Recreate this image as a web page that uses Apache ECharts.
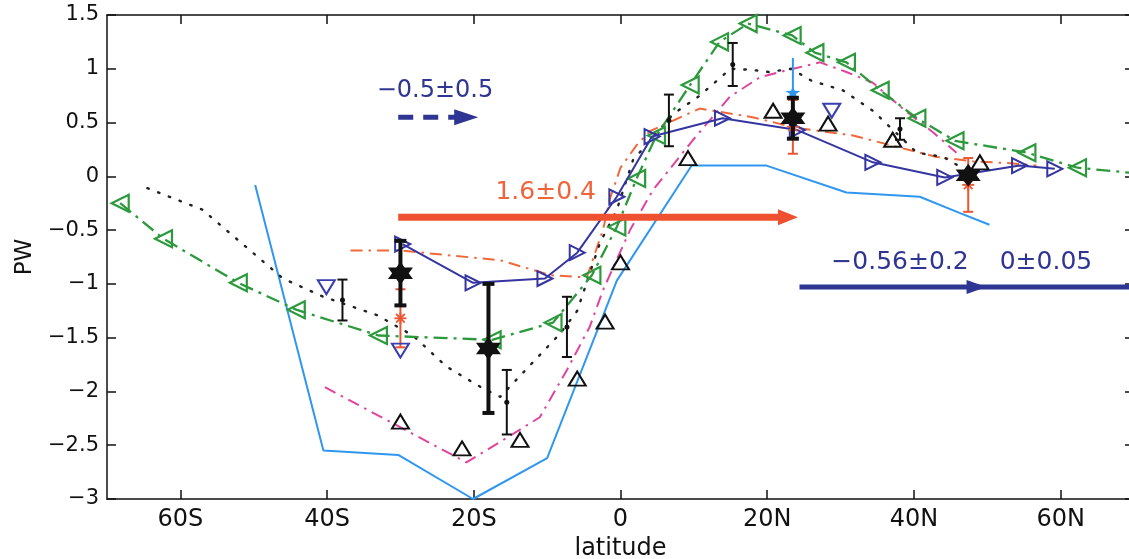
<!DOCTYPE html>
<html><head><meta charset="utf-8">
<script src="https://cdn.jsdelivr.net/npm/echarts@6/dist/echarts.min.js"></script>
<style>html,body{margin:0;padding:0;background:#fff}#c{width:1129px;height:559px}</style>
</head><body><div id="c"></div>
<script>
const FONT = 'DejaVu Sans';
// ---- axis ticks ----
const latTicks = [-60, -40, -20, 0, 20, 40, 60];
const latTickLabels = ['60S', '40S', '20S', '0', '20N', '40N', '60N'];

// ---- curves (latitude, PW) ----
const greenLat = [-68.2, -62.3, -52.1, -44.2, -33.0, -17.5, -9.2, -3.9, -0.5, 2.2, 4.9, 9.5, 13.5, 17.4, 23.4, 26.5, 30.8, 35.4, 40.4, 45.6, 55.4, 62.3, 70];
const greenPW  = [-0.25, -0.58, -0.99, -1.24, -1.48, -1.52, -1.36, -0.92, -0.47, -0.02, 0.38, 0.85, 1.25, 1.42, 1.31, 1.15, 1.06, 0.80, 0.54, 0.33, 0.22, 0.08, 0.03];

const blueLat = [-29.7, -20.1, -10.3, -5.9, -0.5, 4.3, 13.9, 24.1, 34.4, 44.2, 54.4, 59.2];
const bluePW  = [-0.63, -0.99, -0.95, -0.71, -0.19, 0.37, 0.54, 0.43, 0.13, -0.01, 0.10, 0.07];

const lightLat = [-49.8, -40.5, -30.3, -20.1, -10.0, -0.5, 9.7, 19.9, 30.8, 40.8, 46.2, 50.3];
const lightPW  = [-0.08, -2.55, -2.59, -3.0, -2.62, -0.97, 0.10, 0.10, -0.15, -0.19, -0.34, -0.45];

const orangeLat = [-36.8, -30, -16.4, -9.5, -4.6, -2.4, -1.4, 0, 2.2, 4.0, 10.8, 18, 24, 31.7, 38.5, 43.1, 48, 53.5, 56.7];
const orangePW  = [-0.69, -0.69, -0.78, -0.92, -0.94, -0.50, -0.20, 0.08, 0.29, 0.42, 0.63, 0.55, 0.45, 0.38, 0.26, 0.18, 0.14, 0.12, 0.10];

const magentaLat = [-40.3, -21, -15, -11, -7.3, -4.2, -2.4, 1.3, 4.4, 9.9, 14.9, 19, 21.7, 27.2, 30.8, 34.4, 39, 42.6, 45.8];
const magentaPW  = [-1.96, -2.66, -2.41, -2.24, -1.80, -1.40, -1.06, -0.50, -0.13, 0.34, 0.74, 0.92, 0.97, 1.06, 0.97, 0.87, 0.60, 0.41, 0.22];

const dottedLat = [-64.5, -57, -46, -40.5, -33.2, -28.3, -23.7, -18.8, -16.4, -8.2, -5.9, -2.8, -0.5, 1.7, 7.2, 10.8, 15, 17.9, 20.2, 23.3, 26, 30.3, 34.4, 40.4, 44, 46.3];
const dottedPW  = [-0.11, -0.31, -0.95, -1.12, -1.29, -1.48, -1.77, -1.97, -2.05, -1.46, -1.25, -0.62, -0.31, 0.15, 0.58, 0.75, 1.0, 0.99, 0.97, 1.0, 0.89, 0.80, 0.61, 0.22, 0.18, 0.09];

// ---- individual markers ----
const upTriLat = [-30, -21.6, -13.7, -5.9, -2.1, 0, 9.2, 20.8, 28.3, 37.1, 49];
const upTriPW  = [-2.28, -2.53, -2.45, -1.88, -1.35, -0.80, 0.17, 0.61, 0.49, 0.34, 0.13];

const downTriLat = [-40.1, -30, 28.8];
const downTriPW  = [-1.03, -1.62, 0.61];

// error bars: lat, value, half-width
const thinBarLat = [-37.9, -15.5, -7.3, 6.6, 15.3, 38.1];
const thinBarPW  = [-1.15, -2.10, -1.40, 0.52, 1.04, 0.44];
const thinBarErr = [0.19, 0.30, 0.28, 0.24, 0.20, 0.10];

const starLat = [-30, -18, 23.5, 47.4];
const starPW  = [-0.90, -1.60, 0.54, 0.01];
const starErr = [0.30, 0.60, 0.19, 0];

const redLat = [-30, 23.5, 47.4];
const redPW  = [-1.32, 0.46, -0.08];
const redErr = [0.27, 0.25, 0.25];

const cyanLat = [23.5];
const cyanPW  = [0.78];
const cyanErr = [0.32];

// ---- arrows: [start lat, end lat, PW, tip lat] ----
const arrowDashed = [-30.3, -19.4, 0.55, -19.4];
const arrowRed    = [-30.3, 24.2, -0.38, 24.2];
const arrowBlue   = [24.4, 70, -1.03, 49.9];

// ---- annotation texts ----
const annoText = ['\u22120.5\u00B10.5', '1.6\u00B10.4', '\u22120.56\u00B10.2', '0\u00B10.05'];
const annoLat  = [-25.3, -10.2, 38.1, 58.0];
const annoPW   = [0.80, -0.15, -0.80, -0.80];
const annoColor = ['#2E3592', '#F0643C', '#2E3592', '#2E3592'];
const annoSize = [24, 25, 25, 25];

function pairs(a, b) { return a.map((v, i) => [v, b[i]]); }
function triples(a, b, c) { return a.map((v, i) => [v, b[i], c[i]]); }

const HEX = 'path://M0,-10 L2.89,-5 L8.66,-5 L5.77,0 L8.66,5 L2.89,5 L0,10 L-2.89,5 L-8.66,5 L-5.77,0 L-8.66,-5 L-2.89,-5 Z';
const STAR5 = 'path://M0,-10 L2.35,-3.24 L9.51,-3.09 L3.8,1.24 L5.88,8.09 L0,4 L-5.88,8.09 L-3.8,1.24 L-9.51,-3.09 L-2.35,-3.24 Z';

function errBars(name, lat, pw, err, color, width, cap, z) {
  return {
    type: 'custom', name, z, silent: true,
    data: triples(lat, pw, err),
    encode: { x: 0, y: 1 },
    renderItem: (params, api) => {
      const x = api.value(0), y = api.value(1), e = api.value(2);
      if (!e) return { type: 'group', children: [] };
      const t = api.coord([x, y + e]), b = api.coord([x, y - e]);
      const st = { stroke: color, lineWidth: width };
      return { type: 'group', children: [
        { type: 'line', shape: { x1: t[0], y1: t[1], x2: b[0], y2: b[1] }, style: st },
        { type: 'line', shape: { x1: t[0] - cap, y1: t[1], x2: t[0] + cap, y2: t[1] }, style: st },
        { type: 'line', shape: { x1: b[0] - cap, y1: b[1], x2: b[0] + cap, y2: b[1] }, style: st }
      ]};
    }
  };
}

function arrowSeries(arr, color, width, dash, headLen, headHalf, z) {
  return {
    type: 'custom', z, silent: true, clip: false,
    data: [arr],
    encode: { x: [0, 1], y: 2 },
    renderItem: (params, api) => {
      const p0 = api.coord([api.value(0), api.value(2)]);
      const p1 = api.coord([api.value(1), api.value(2)]);
      const tip = api.coord([api.value(3), api.value(2)]);
      const shaftEnd = Math.abs(p1[0] - tip[0]) < 1 ? tip[0] - headLen + 2 : p1[0];
      return { type: 'group', children: [
        { type: 'line', shape: { x1: p0[0], y1: p0[1], x2: shaftEnd, y2: p1[1] },
          style: { stroke: color, lineWidth: width, lineDash: dash } },
        { type: 'polygon', shape: { points: [[tip[0], tip[1]], [tip[0] - headLen, tip[1] - headHalf], [tip[0] - headLen, tip[1] + headHalf]] },
          style: { fill: color } }
      ]};
    }
  };
}

const chart = echarts.init(document.getElementById('c'));
const axisLineStyle = { color: '#111', width: 1.5 };
const option = {
  animation: false,
  backgroundColor: '#fff',
  grid: { left: 107, top: 15, width: 1027, height: 484, outerBoundsMode: 'none', containLabel: false },
  xAxis: [
    { type: 'value', min: -70, max: 70, position: 'bottom',
      axisLine: { show: true, onZero: false, lineStyle: axisLineStyle },
      axisTick: { show: true, inside: true, length: 9, customValues: latTicks, lineStyle: axisLineStyle },
      axisLabel: { customValues: latTicks, formatter: v => latTickLabels[latTicks.indexOf(v)], fontSize: 24, color: '#111', fontFamily: FONT, margin: 9 },
      splitLine: { show: false },
      name: 'latitude', nameLocation: 'middle', nameGap: 35,
      nameTextStyle: { fontSize: 24, color: '#111', fontFamily: FONT } },
    { type: 'value', min: -70, max: 70, position: 'top',
      axisLine: { show: true, onZero: false, lineStyle: axisLineStyle },
      axisTick: { show: true, inside: true, length: 9, customValues: latTicks, lineStyle: axisLineStyle },
      axisLabel: { show: false }, splitLine: { show: false } }
  ],
  yAxis: [
    { type: 'value', min: -3, max: 1.5, interval: 0.5, position: 'left',
      axisLine: { show: true, onZero: false, lineStyle: axisLineStyle },
      axisTick: { show: true, inside: true, length: 9, lineStyle: axisLineStyle },
      axisLabel: { formatter: v => String(v).replace('-', '\u2212'), fontSize: 21, color: '#111', fontFamily: FONT, margin: 8 },
      splitLine: { show: false },
      name: 'PW', nameLocation: 'middle', nameGap: 70,
      nameTextStyle: { fontSize: 23, color: '#111', fontFamily: FONT } },
    { type: 'value', min: -3, max: 1.5, interval: 0.5, position: 'right',
      axisLine: { show: true, onZero: false, lineStyle: axisLineStyle },
      axisTick: { show: true, inside: true, length: 9, lineStyle: axisLineStyle },
      axisLabel: { show: false }, splitLine: { show: false } }
  ],
  series: [
    { type: 'line', name: 'lightblue', data: pairs(lightLat, lightPW), showSymbol: false, symbol: 'none', z: 2,
      lineStyle: { color: '#2F97F0', width: 2 } },
    { type: 'line', name: 'magenta', data: pairs(magentaLat, magentaPW), symbol: 'none', z: 2,
      lineStyle: { color: '#E0449C', width: 2, type: [12, 6, 2.5, 6] } },
    { type: 'line', name: 'orange', data: pairs(orangeLat, orangePW), symbol: 'none', z: 2,
      lineStyle: { color: '#F0683A', width: 2, type: [12, 6, 2.5, 6] } },
    { type: 'line', name: 'dotted', data: pairs(dottedLat, dottedPW), symbol: 'none', z: 2,
      lineStyle: { color: '#222', width: 2.4, type: [1.5, 10], cap: 'round' } },
    { type: 'line', name: 'green', z: 3,
      data: greenLat.map((v, i) => i === greenLat.length - 1 ? { value: [v, greenPW[i]], symbol: 'none' } : [v, greenPW[i]]),
      symbol: 'triangle', symbolSize: 17, symbolRotate: 90, showAllSymbol: true,
      itemStyle: { color: 'rgba(0,0,0,0)', borderColor: '#2C9A3C', borderWidth: 2.2, opacity: 1 },
      lineStyle: { color: '#2C9A3C', width: 2.3, type: [14, 6, 3, 6] } },
    { type: 'line', name: 'blue', z: 4, data: pairs(blueLat, bluePW),
      symbol: 'triangle', symbolSize: 15, symbolRotate: -90, showAllSymbol: true,
      itemStyle: { color: 'rgba(0,0,0,0)', borderColor: '#3535A2', borderWidth: 2, opacity: 1 },
      lineStyle: { color: '#3535A2', width: 2 } },
    { type: 'scatter', name: 'upTri', z: 5, data: pairs(upTriLat, upTriPW),
      symbol: 'triangle', symbolSize: [17, 14],
      itemStyle: { color: 'rgba(0,0,0,0)', borderColor: '#111', borderWidth: 2, opacity: 1 } },
    errBars('thinBars', thinBarLat, thinBarPW, thinBarErr, '#111', 2, 5, 6),
    { type: 'scatter', name: 'thinDots', z: 6, data: pairs(thinBarLat, thinBarPW),
      symbol: 'circle', symbolSize: 5, itemStyle: { color: '#111', opacity: 1 } },
    errBars('redBars', redLat, redPW, redErr, '#EC5532', 2, 5, 6),
    { type: 'custom', name: 'redAst', z: 7, silent: true, data: pairs(redLat, redPW),
      encode: { x: 0, y: 1 },
      renderItem: (params, api) => {
        const p = api.coord([api.value(0), api.value(1)]);
        const r = 6, d = 4.3, st = { stroke: '#EC5532', lineWidth: 1.8 };
        return { type: 'group', children: [
          { type: 'line', shape: { x1: p[0] - r, y1: p[1], x2: p[0] + r, y2: p[1] }, style: st },
          { type: 'line', shape: { x1: p[0], y1: p[1] - r, x2: p[0], y2: p[1] + r }, style: st },
          { type: 'line', shape: { x1: p[0] - d, y1: p[1] - d, x2: p[0] + d, y2: p[1] + d }, style: st },
          { type: 'line', shape: { x1: p[0] - d, y1: p[1] + d, x2: p[0] + d, y2: p[1] - d }, style: st }
        ]};
      } },
    { type: 'scatter', name: 'downTri', z: 7, data: pairs(downTriLat, downTriPW),
      symbol: 'triangle', symbolSize: [17, 14], symbolRotate: 180,
      itemStyle: { color: 'rgba(0,0,0,0)', borderColor: '#3A3FB0', borderWidth: 2, opacity: 1 } },
    errBars('cyanBar', cyanLat, cyanPW, cyanErr, '#2F97F0', 2, 0, 7),
    { type: 'scatter', name: 'cyanStar', z: 7, data: pairs(cyanLat, cyanPW),
      symbol: STAR5, symbolSize: [15, 13], itemStyle: { color: '#2F97F0', opacity: 1 } },
    errBars('starBars', starLat, starPW, starErr, '#111', 4, 6, 8),
    { type: 'scatter', name: 'stars', z: 9, data: pairs(starLat, starPW),
      symbol: HEX, symbolSize: [25, 23], itemStyle: { color: '#111', opacity: 1 } },
    arrowSeries(arrowDashed, '#2E3592', 5, [15, 10], 24, 8, 10),
    arrowSeries(arrowRed, '#EE5030', 7, null, 20, 8, 10),
    arrowSeries(arrowBlue, '#2E3592', 5, null, 20, 7, 10),
    { type: 'custom', name: 'annotations', z: 11, silent: true, clip: false,
      data: annoLat.map((v, i) => [v, annoPW[i], i]),
      encode: { x: 0, y: 1 },
      renderItem: (params, api) => {
        const i = api.value(2);
        const p = api.coord([api.value(0), api.value(1)]);
        return { type: 'text', x: p[0], y: p[1],
          style: { text: annoText[i], fill: annoColor[i], fontSize: annoSize[i], fontFamily: FONT, align: 'center', verticalAlign: 'middle' } };
      } }
  ]
};
chart.setOption(option);
</script>
</body></html>
